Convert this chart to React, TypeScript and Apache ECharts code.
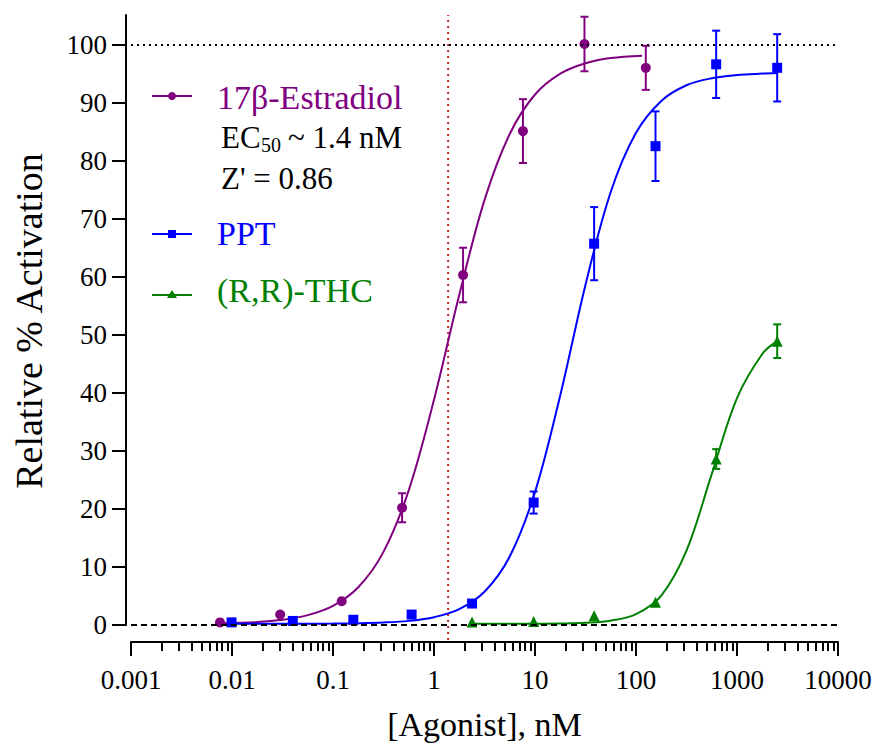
import React, { useEffect, useRef } from "react";
import * as echarts from "echarts";

// ---- data ----
const xTickValues = [0.001, 0.01, 0.1, 1, 10, 100, 1000, 10000];
const xTickLabels = ["0.001", "0.01", "0.1", "1", "10", "100", "1000", "10000"];
const yTickValues = [0, 10, 20, 30, 40, 50, 60, 70, 80, 90, 100];
const yTickLabels = ["0", "10", "20", "30", "40", "50", "60", "70", "80", "90", "100"];

const e2Conc = [0.0076, 0.030, 0.122, 0.483, 1.94, 7.6, 30.9, 125];
const e2Mean = [0.45, 1.8, 4.1, 20.2, 60.3, 85.1, 100.1, 96.0];
const e2Err = [0, 0, 0, 2.5, 4.7, 5.5, 4.7, 3.8];
const e2CurveX = [0.0076, 0.0178, 0.0316, 0.0562, 0.1, 0.178, 0.316, 0.562, 1, 1.78, 3.16, 5.62, 10, 17.8, 31.6, 56.2, 115];
const e2CurveY = [0.3, 0.5, 0.9, 1.7, 3.3, 6.5, 12.6, 23.2, 38.8, 56.9, 73.2, 84.6, 91.4, 95.0, 96.8, 97.7, 98.1];

const pptConc = [0.0099, 0.040, 0.159, 0.60, 2.38, 9.7, 38.5, 156, 622, 2500];
const pptMean = [0.45, 0.7, 0.9, 1.8, 3.7, 21.1, 65.7, 82.5, 96.6, 96.0];
const pptErr = [0, 0, 0, 0, 0, 1.9, 6.3, 6.0, 5.8, 5.8];
const pptCurveX = [0.0099, 0.0178, 0.0316, 0.0562, 0.1, 0.178, 0.316, 0.562, 1, 1.78, 3.16, 5.62, 10, 17.8, 31.6, 56.2, 100, 178, 316, 562, 1000, 1780, 2500];
const pptCurveY = [0.2, 0.2, 0.21, 0.22, 0.24, 0.3, 0.43, 0.71, 1.34, 2.73, 5.72, 11.8, 22.9, 39.6, 58.6, 74.6, 84.8, 90.3, 93.0, 94.2, 94.75, 95.0, 95.1];

const thcConc = [2.38, 9.7, 38.5, 156, 622, 2500];
const thcMean = [0.5, 0.6, 1.6, 3.9, 28.6, 48.9];
const thcErr = [0, 0, 0, 0, 1.7, 2.9];
const thcCurveX = [2.38, 5.62, 10, 17.8, 31.6, 56.2, 100, 178, 316, 562, 1000, 1780, 2500];
const thcCurveY = [0.2, 0.21, 0.22, 0.26, 0.38, 0.75, 1.88, 5.08, 12.8, 26.0, 39.1, 46.7, 48.9];

const ec50 = 1.38;
const refTop = 100;
const refBase = 0;
const xMin = 0.001;
const xMax = 10000;
const yMin = 0;
const yMax = 105.1;

const minorMultipliers = [2, 3, 4, 5, 6, 7, 8, 9];

const PURPLE = "#800080";
const BLUE = "#0000FF";
const GREEN = "#008000";
const RED = "#C8281E";
const FONT = "Liberation Serif";

export default function App() {
  const ref = useRef<HTMLDivElement>(null);

  useEffect(() => {
    const chart = echarts.init(ref.current!, null, { renderer: "svg" });

    const minorTicks: number[] = [];
    xTickValues.slice(0, -1).forEach((d) => {
      minorMultipliers.forEach((m) => minorTicks.push(parseFloat((d * m).toPrecision(6))));
    });

    const errSeries = (conc: number[], mean: number[], err: number[], color: string) => ({
      type: "custom",
      xAxisIndex: 0,
      yAxisIndex: 0,
      z: 3,
      clip: false,
      data: conc.map((c, i) => [c, mean[i], err[i]]),
      encode: { x: 0, y: 1 },
      renderItem: (params: any, api: any) => {
        const e = api.value(2);
        if (!e) return null;
        const x = api.value(0);
        const y = api.value(1);
        const t = api.coord([x, y + e]);
        const b = api.coord([x, y - e]);
        const w = 4;
        const st = { stroke: color, lineWidth: 2 };
        return {
          type: "group",
          children: [
            { type: "line", shape: { x1: t[0], y1: t[1], x2: b[0], y2: b[1] }, style: st },
            { type: "line", shape: { x1: t[0] - w, y1: t[1], x2: t[0] + w, y2: t[1] }, style: st },
            { type: "line", shape: { x1: b[0] - w, y1: b[1], x2: b[0] + w, y2: b[1] }, style: st },
          ],
        };
      },
    });

    const curve = (xs: number[], ys: number[], color: string) => ({
      type: "line",
      data: xs.map((x, i) => [x, ys[i]]),
      showSymbol: false,
      symbol: "none",
      smooth: 0.35,
      clip: false,
      z: 2,
      lineStyle: { color, width: 2 },
      silent: true,
    });

    const points = (xs: number[], ys: number[], color: string, symbol: string, size: number) => ({
      type: "scatter",
      data: xs.map((x, i) => [x, ys[i]]),
      symbol,
      symbolSize: size,
      clip: false,
      z: 4,
      itemStyle: { color, opacity: 1 },
    });

    const legendLine = (y: number, color: string) => ({
      type: "line",
      shape: { x1: 152, y1: y, x2: 192, y2: y },
      style: { stroke: color, lineWidth: 2 },
    });
    const text = (x: number, y: number, s: string, color: string, size: number, align = "left") => ({
      type: "text",
      x,
      y,
      style: {
        text: s,
        fill: color,
        fontFamily: FONT,
        fontSize: size,
        verticalAlign: "middle",
        align,
      },
    });

    chart.setOption({
      animation: false,
      backgroundColor: "#fff",
      textStyle: { fontFamily: FONT },
      grid: { left: 131, right: 37, top: 15, bottom: 119, containLabel: false },
      xAxis: [
        {
          type: "log",
          logBase: 10,
          min: xMin,
          max: xMax,
          position: "bottom",
          offset: 17,
          axisLine: { show: true, onZero: false, lineStyle: { color: "#000", width: 2 } },
          axisTick: { show: true, length: 14, lineStyle: { color: "#000", width: 2 }, customValues: xTickValues },
          axisLabel: { show: false },
          splitLine: { show: false },
          minorTick: { show: false },
        },
        {
          type: "log",
          logBase: 10,
          min: xMin,
          max: xMax,
          position: "bottom",
          offset: 17,
          axisLine: { show: false, onZero: false },
          axisTick: { show: true, length: 9, lineStyle: { color: "#000", width: 2 }, customValues: minorTicks },
          axisLabel: { show: false },
          splitLine: { show: false },
        },
      ],
      yAxis: {
        type: "value",
        min: yMin,
        max: yMax,
        offset: 5,
        axisLine: { show: true, lineStyle: { color: "#000", width: 2 } },
        axisTick: { show: true, length: 14, lineStyle: { color: "#000", width: 2 }, customValues: yTickValues },
        axisLabel: { show: false },
        splitLine: { show: false },
      },
      series: [
        {
          type: "line",
          data: [[ec50, -2.6], [ec50, yMax]],
          showSymbol: false,
          symbol: "none",
          clip: false,
          z: 1,
          silent: true,
          lineStyle: { color: RED, width: 2, type: [2, 4] },
          markLine: {
            symbol: "none",
            silent: true,
            label: { show: false },
            animation: false,
            data: [
              { yAxis: refTop, lineStyle: { color: "#000", width: 2, type: [2, 4] } },
              { yAxis: refBase, lineStyle: { color: "#000", width: 2, type: [6, 4] } },
            ],
          },
        },
        curve(e2CurveX, e2CurveY, PURPLE),
        curve(pptCurveX, pptCurveY, BLUE),
        curve(thcCurveX, thcCurveY, GREEN),
        errSeries(e2Conc, e2Mean, e2Err, PURPLE),
        errSeries(pptConc, pptMean, pptErr, BLUE),
        errSeries(thcConc, thcMean, thcErr, GREEN),
        points(e2Conc, e2Mean, PURPLE, "circle", 10),
        points(pptConc, pptMean, BLUE, "rect", 10),
        points(thcConc, thcMean, GREEN, "triangle", 11),
      ],
    });

    // tick labels placed through the axes' own scales
    const px = (v: number) => chart.convertToPixel({ xAxisIndex: 0 }, v) as number;
    const py = (v: number) => chart.convertToPixel({ yAxisIndex: 0 }, v) as number;
    const xAxisY = py(yMin) + 17;
    const yAxisX = px(xMin) - 5;
    const tickLabels: any[] = [];
    xTickValues.forEach((v, i) => tickLabels.push(text(px(v), xAxisY + 38, xTickLabels[i], "#000", 27, "center")));
    yTickValues.forEach((v, i) => tickLabels.push(text(yAxisX - 19, py(v), yTickLabels[i], "#000", 27, "right")));

    chart.setOption({
      graphic: [
        ...tickLabels,
        text((px(xMin) + px(xMax)) / 2, 724, "[Agonist], nM", "#000", 34, "center"),
        {
          type: "text",
          x: 29,
          y: 321,
          rotation: Math.PI / 2,
          style: { text: "Relative % Activation", fill: "#000", fontFamily: FONT, fontSize: 38, align: "center", verticalAlign: "middle" },
        },
        legendLine(96, PURPLE),
        { type: "circle", shape: { cx: 172, cy: 96, r: 4 }, style: { fill: PURPLE } },
        text(217, 97, "17β-Estradiol", PURPLE, 34),
        text(221, 137, "EC", "#000", 31),
        text(261, 145, "50", "#000", 20),
        text(288, 137, "~ 1.4 nM", "#000", 31),
        text(221, 178, "Z' = 0.86", "#000", 31),
        legendLine(234, BLUE),
        { type: "rect", shape: { x: 168, y: 230, width: 8, height: 8 }, style: { fill: BLUE } },
        text(217, 233, "PPT", BLUE, 34),
        legendLine(295, GREEN),
        { type: "polygon", shape: { points: [[172, 290], [167, 298], [177, 298]] }, style: { fill: GREEN } },
        text(217, 290, "(R,R)-THC", GREEN, 34),
      ],
    });

    return () => chart.dispose();
  }, []);

  return (
    <div
      ref={ref}
      style={{ position: "fixed", left: 0, top: 0, width: 875, height: 744, background: "#fff" }}
    />
  );
}
